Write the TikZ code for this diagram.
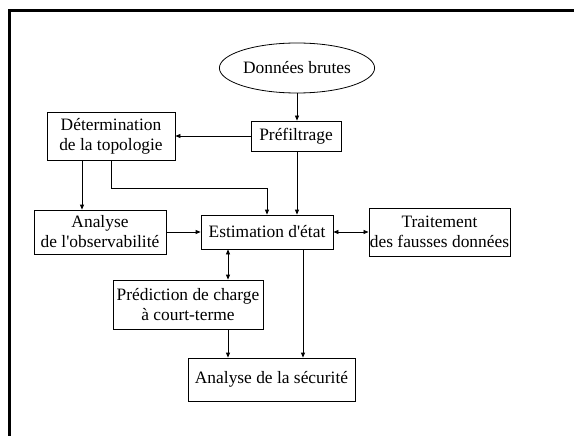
\documentclass[tikz,border=0pt]{standalone}
\usepackage{fontspec}
\setmainfont{Liberation Serif}
\usetikzlibrary{shapes.geometric, arrows.meta}
\begin{document}
\begin{tikzpicture}[x=1pt, y=-1pt, font=\fontsize{17.4}{20}\selectfont,
  box/.style={draw, line width=0.8pt, inner sep=1pt, align=center},
  fl/.style={-{Triangle[length=5pt, width=4pt]}, line width=0.8pt},
  dfl/.style={{Triangle[length=5pt, width=4pt]}-{Triangle[length=5pt, width=4pt]}, line width=0.8pt}]
\useasboundingbox (0,0) rectangle (574,436);
\draw[line width=3pt] (9,436) -- (9,11) -- (574,11);
\node[box, ellipse, minimum width=129, minimum height=50] (donnees) at (297,68) {Données brutes};
\node[box, minimum width=90, minimum height=30] (pref) at (296,136) {Préfiltrage};
\node[box, minimum width=128, minimum height=48] (topo) at (111,136) {Détermination\\de la topologie};
\node[box, minimum width=132, minimum height=44] (obs) at (100,232) {Analyse\\de l\textquotesingle observabilité};
\node[box, minimum width=132, minimum height=34] (est) at (267,232) {Estimation d\textquotesingle état};
\node[box, minimum width=141, minimum height=48] (faux) at (439.5,232) {Traitement\\des fausses données};
\node[box, minimum width=150, minimum height=49] (pred) at (188,304.5) {Prédiction de charge\\à court-terme};
\node[box, minimum width=167, minimum height=43] (secu) at (271.5,379.5) {Analyse de la sécurité};
\draw[fl] (donnees.south) -- (donnees.south |- pref.north);
\draw[fl] (pref.west) -- (topo.east);
\draw[fl] ([xshift=1pt]pref.south) -- ([xshift=1pt]pref.south |- est.north);
\draw[fl] ([xshift=-29pt]topo.south) -- ([xshift=-29pt]topo.south |- obs.north);
\draw[fl] (topo.south) -- ++(0,28) -| (est.north);
\draw[fl] (obs.east) -- (est.west);
\draw[dfl] (est.east) -- (faux.west);
\draw[dfl] ([xshift=-39pt]est.south) -- ([xshift=-39pt]est.south |- pred.north);
\draw[fl] ([xshift=40pt]pred.south) -- ([xshift=40pt]pred.south |- secu.north);
\draw[fl] ([xshift=36pt]est.south) -- ([xshift=36pt]est.south |- secu.north);
\end{tikzpicture}
\end{document}
